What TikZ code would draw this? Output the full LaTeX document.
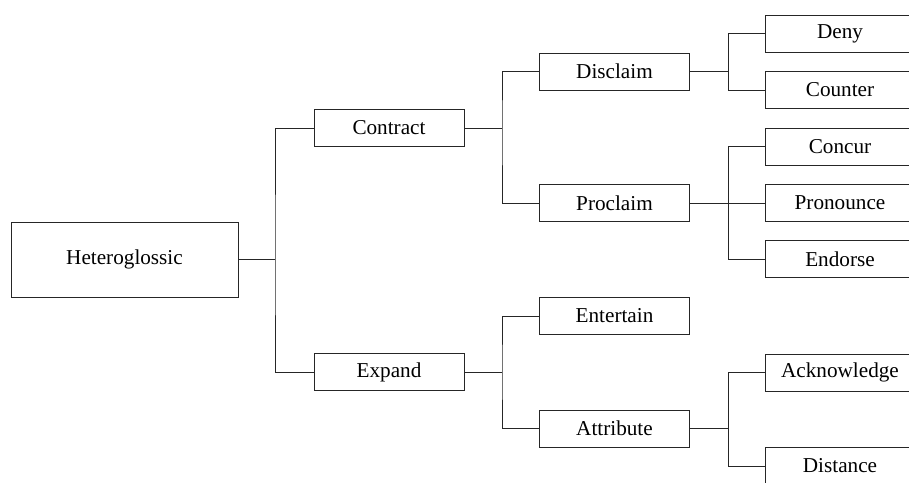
\documentclass[tikz,border=0pt]{standalone}
\usepackage{fontspec}
\setmainfont{Liberation Serif}
\tikzset{
	catbox/.style={draw=black!85, line width=0.5pt, inner sep=0pt, minimum width=75pt, minimum height=18.5pt, font=\fontsize{10.6}{12}\selectfont},
	rootbox/.style={catbox, minimum width=113.5pt, minimum height=37.5pt},
	link/.style={draw=black!85, line width=0.5pt}
}
\begin{document}
\begin{tikzpicture}[x=0.5pt, y=-0.5pt]
			%%%%% START %%%%%
			\useasboundingbox (0, 0) rectangle (909, 482);
			\clip (0, 0) rectangle (909, 482);
			
			\node[rootbox] (het) at (124.5, 259.5) {Heteroglossic};
			
			\node[catbox] (contract) at (389, 128) {Contract};
			\node[catbox] (expand) at (389, 372) {Expand};
			
			\node[catbox] (disclaim) at (614.5, 71.5) {Disclaim};
			\node[catbox] (proclaim) at (614.5, 203) {Proclaim};
			\node[catbox] (entertain) at (614.5, 316) {Entertain};
			\node[catbox] (attribute) at (614.5, 428.5) {Attribute};
			
			\node[catbox] (deny) at (840, 33.5) {Deny};
			\node[catbox] (counter) at (840, 90) {Counter};
			\node[catbox] (concur) at (840, 146.5) {Concur};
			\node[catbox] (pronounce) at (840, 203) {Pronounce};
			\node[catbox] (endorse) at (840, 259) {Endorse};
			\node[catbox] (acknowledge) at (840, 372.5) {Acknowledge};
			\node[catbox] (distance) at (840, 466) {Distance};
			
			% junctions
			\coordinate (jhet) at (275, 259.5);
			\coordinate (jcon) at (502, 128);
			\coordinate (jexp) at (502, 372);
			\coordinate (jdis) at (728, 71.5);
			\coordinate (jpro) at (728, 203);
			\coordinate (jatt) at (728, 428.5);
			
			\draw[link] (het.east) -- (jhet);
			\draw[link] (contract.west) -| (jhet) |- (expand.west);
			
			\draw[link] (contract.east) -- (jcon);
			\draw[link] (disclaim.west) -| (jcon) |- (proclaim.west);
			\draw[link] (expand.east) -- (jexp);
			\draw[link] (entertain.west) -| (jexp) |- (attribute.west);
			
			\draw[link] (disclaim.east) -- (jdis);
			\draw[link] (deny.west) -| (jdis) |- (counter.west);
			\draw[link] (proclaim.east) -- (jpro);
			\draw[link] (concur.west) -| (jpro) |- (endorse.west);
			\draw[link] (jpro) -- (pronounce.west);
			\draw[link] (attribute.east) -- (jatt);
			\draw[link] (acknowledge.west) -| (jatt) |- (distance.west);
			
			%%%%% END %%%%%
		\end{tikzpicture}
\end{document}
